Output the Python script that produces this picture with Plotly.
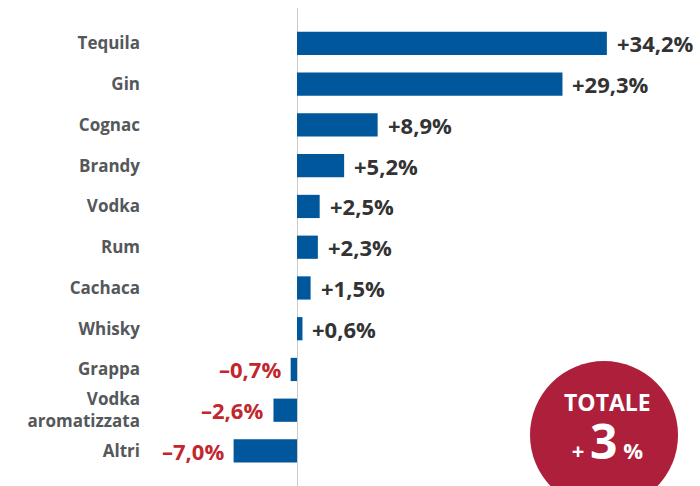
import plotly.graph_objects as go

categories = ["Tequila", "Gin", "Cognac", "Brandy", "Vodka", "Rum", "Cachaca",
              "Whisky", "Grappa", "Vodka<br>aromatizzata", "Altri"]
values = [34.2, 29.3, 8.9, 5.2, 2.5, 2.3, 1.5, 0.6, -0.7, -2.6, -7.0]
total_change = 3

BAR = "#00579b"
POS_TXT = "#333333"
NEG_TXT = "#c1272d"
CAT_TXT = "#54585b"
BADGE = "#ad1f3b"
FONT = "Open Sans"


def fmt(v):
    s = f"{abs(v):.1f}".replace(".", ",")
    return ("+" if v >= 0 else "\u2013") + s + "%"


fig = go.Figure(go.Bar(
    x=values, y=categories, orientation="h",
    marker=dict(color=BAR, line=dict(width=0)),
    width=0.57, hoverinfo="skip",
))

# value labels beside each bar end
for c, v in zip(categories, values):
    pos = v >= 0
    fig.add_annotation(
        x=v, y=c, xref="x", yref="y", text=fmt(v), showarrow=False,
        xanchor="left" if pos else "right", xshift=8 if pos else -8,
        font=dict(family=FONT, size=22, weight="bold",
                  color=POS_TXT if pos else NEG_TXT),
    )

# total badge: red disc with a two-line caption
fig.add_shape(type="circle", xref="paper", yref="paper",
              x0=0.6937, x1=0.9604, y0=-0.048, y1=0.2615,
              fillcolor=BADGE, line=dict(width=0), layer="below")
fig.add_annotation(
    x=0.833, y=0.119, xref="paper", yref="paper", showarrow=False,
    xanchor="center", yanchor="middle",
    text=("<span style='font-size:23px'>TOTALE</span><br>"
          "<span style='font-size:22px'>+ </span>"
          f"<span style='font-size:48px'>{total_change}</span>"
          "<span style='font-size:22px'> %</span>"),
    font=dict(family=FONT, size=37, weight="bold", color="white"),
)

fig.update_layout(
    width=700, height=486,
    margin=dict(l=145, r=0, t=8, b=0),
    paper_bgcolor="white", plot_bgcolor="rgba(0,0,0,0)",
    showlegend=False,
    xaxis=dict(range=[-16.78, 44.48], showgrid=False, showticklabels=False,
               zeroline=True, zerolinecolor="#cccccc", zerolinewidth=1, fixedrange=True),
    yaxis=dict(categoryorder="array", categoryarray=categories,
               range=[10.86, -0.87], showgrid=False, zeroline=False, ticks="",
               tickfont=dict(family=FONT, size=17, weight="bold", color=CAT_TXT),
               ticklabelstandoff=4, fixedrange=True),
)

fig.write_html("out.html")
